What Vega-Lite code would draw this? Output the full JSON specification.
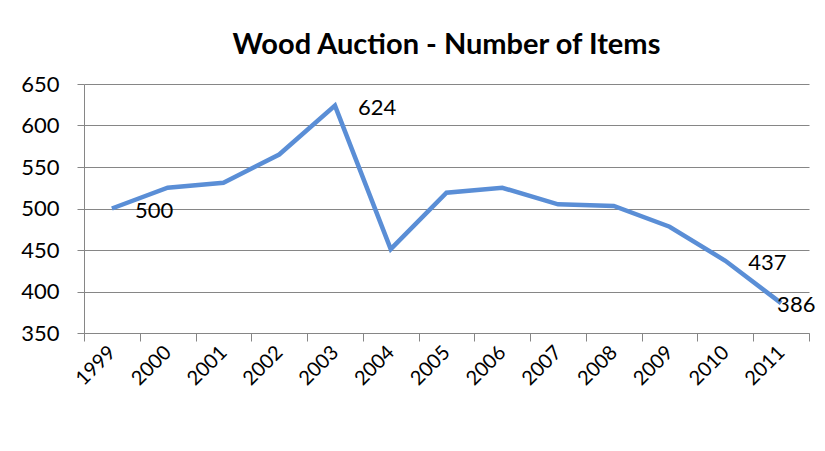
{
  "$schema": "https://vega.github.io/schema/vega-lite/v6.json",
  "width": 725,
  "height": 249,
  "autosize": {"type": "none"},
  "padding": {"left": 84, "top": 84, "right": 16, "bottom": 118},
  "background": "white",
  "title": {
    "text": "Wood Auction - Number of Items",
    "font": "Lato",
    "fontSize": 29,
    "fontWeight": "bold",
    "color": "#000000",
    "anchor": "middle",
    "baseline": "alphabetic",
    "offset": -10
  },
  "data": {
    "values": [
      {"year": "1999", "items": 500},
      {"year": "2000", "items": 525},
      {"year": "2001", "items": 531},
      {"year": "2002", "items": 565},
      {"year": "2003", "items": 624},
      {"year": "2004", "items": 451},
      {"year": "2005", "items": 519},
      {"year": "2006", "items": 525},
      {"year": "2007", "items": 505},
      {"year": "2008", "items": 503},
      {"year": "2009", "items": 478},
      {"year": "2010", "items": 437},
      {"year": "2011", "items": 386}
    ]
  },
  "encoding": {
    "x": {
      "field": "year",
      "type": "ordinal",
      "scale": {"type": "band", "paddingInner": 0, "paddingOuter": 0},
      "axis": {
        "title": null,
        "tickBand": "extent",
        "grid": false,
        "labelAngle": -45,
        "labelAlign": "right",
        "labelBaseline": "middle",
        "tickSize": 8,
        "labelPadding": 8,
        "labelFont": "Lato",
        "labelFontSize": 20,
        "labelColor": "#000000",
        "domainColor": "#868686",
        "tickColor": "#868686"
      }
    },
    "y": {
      "field": "items",
      "type": "quantitative",
      "scale": {"domain": [350, 650], "nice": false, "zero": false},
      "axis": {
        "title": null,
        "values": [350, 400, 450, 500, 550, 600, 650],
        "grid": true,
        "gridColor": "#868686",
        "gridOpacity": 1,
        "domainColor": "#868686",
        "tickColor": "#868686",
        "tickSize": 7,
        "labelPadding": 18,
        "labelFont": "Lato",
        "labelFontSize": 22,
        "labelColor": "#000000"
      }
    }
  },
  "layer": [
    {
      "mark": {"type": "line", "color": "#5a8ed6", "strokeWidth": 4.5}
    },
    {
      "transform": [{"filter": "datum.year == '1999' || datum.year == '2003' || datum.year == '2010'"}],
      "mark": {"type": "text", "align": "left", "baseline": "middle", "dx": 23, "dy": 2, "font": "Lato", "fontSize": 22, "color": "#000000"},
      "encoding": {"text": {"field": "items", "type": "quantitative"}}
    },
    {
      "transform": [{"filter": "datum.year == '2011'"}],
      "mark": {"type": "text", "align": "left", "baseline": "middle", "dx": -4, "dy": 2, "font": "Lato", "fontSize": 22, "color": "#000000"},
      "encoding": {"text": {"field": "items", "type": "quantitative"}}
    }
  ],
  "config": {"view": {"stroke": null}}
}
